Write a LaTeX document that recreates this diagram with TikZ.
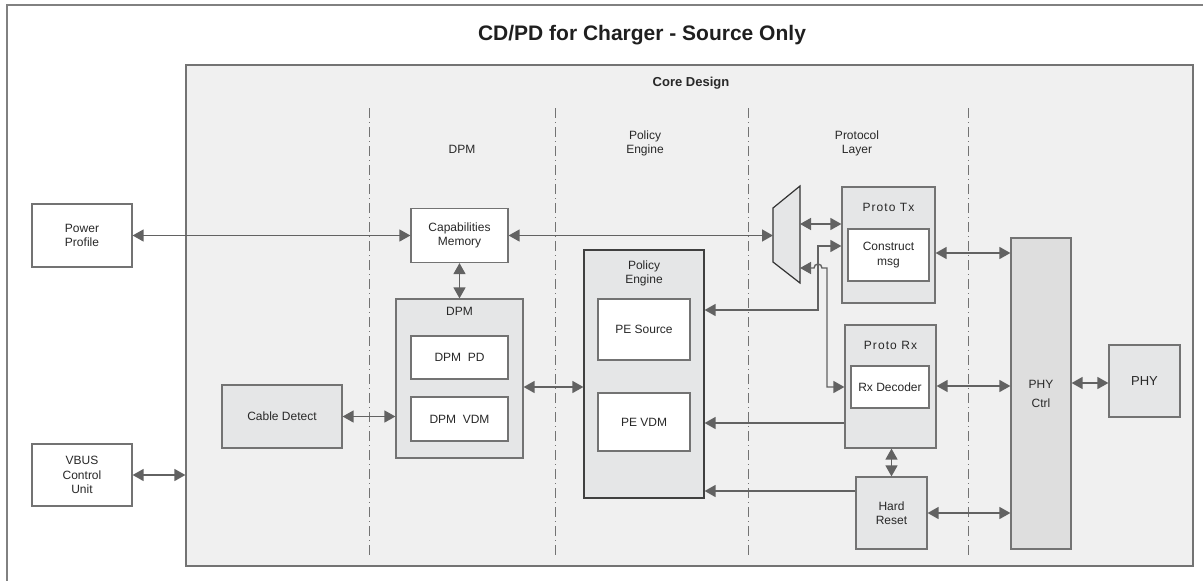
\documentclass[tikz,border=0pt]{standalone}
\usepackage{fontspec}
\setmainfont{Liberation Sans}
\usepackage{tikz}
\usetikzlibrary{arrows.meta}
\usepackage{xcolor}
\definecolor{ColLine}{RGB}{115,115,115}
\definecolor{ColCore}{RGB}{240,240,240}
\definecolor{ColBox}{RGB}{229,230,231}
\definecolor{ColArrow}{RGB}{98,98,98}
\definecolor{ColText}{RGB}{40,40,40}
\tikzstyle{BoxWhite}=[rectangle,draw=ColLine,fill=white,line width=1.2pt,inner sep=0pt,align=center,
text=ColText,font=\fontsize{12}{14.5}\selectfont]
\tikzstyle{BoxGray}=[BoxWhite,fill=ColBox]
\tikzstyle{TextLabel}=[inner sep=0pt,align=center,text=ColText,font=\fontsize{12}{14}\selectfont]
\tikzstyle{SpacedLabel}=[TextLabel,font=\fontsize{12}{14}\selectfont\addfontfeature{LetterSpace=9}]
\tikzstyle{EdgeBoth}=[ColArrow,line width=1.4pt,{Triangle[length=11pt,width=12pt]}-{Triangle[length=11pt,width=12pt]}]
\tikzstyle{EdgeOne}=[ColArrow,line width=1.4pt,-{Triangle[length=11pt,width=12pt]}]
\tikzstyle{LayerLine}=[ColLine,line width=1pt,dash pattern=on 10pt off 4pt on 1pt off 4pt]

\begin{document}
\begin{tikzpicture}[x=1pt,y=-1pt]
        \useasboundingbox(0,0)rectangle(1203,581);
        \draw[ColLine!90,line width=1.5pt](7,581)--(7,5)--(1203,5);
        \node[text=black!88,font=\fontsize{21}{25}\selectfont\bfseries](title)at(642,35){CD/PD for Charger - Source Only};
        \node[BoxGray,fill=ColCore,minimum width=1007pt,minimum height=501pt](core)at(689.5,315.5){};
        \node[TextLabel,font=\fontsize{13}{15}\selectfont\bfseries](coreLabel)at(691,83){Core Design};
        \foreach \x in {369,555,748,968}
            \draw[LayerLine](\x,108)--(\x,555);
        \node[TextLabel](colDPM)at(462,149){DPM};
        \node[TextLabel](colPE)at(645,143){Policy\\Engine};
        \node[TextLabel](colProto)at(857,143){Protocol\\Layer};
        % outside blocks
        \node[BoxWhite,minimum width=100pt,minimum height=63pt](powerProfile)at(82,235.5){Power\\Profile};
        \node[BoxWhite,minimum width=100pt,minimum height=62pt](vbus)at(82,475){VBUS\\Control\\Unit};
        % DPM layer
        \node[BoxGray,minimum width=120pt,minimum height=63pt](cableDetect)at(282,416.5){Cable Detect};
        \node[BoxWhite,minimum width=97pt,minimum height=54pt](capMem)at(459.5,235.5){Capabilities\\Memory};
        \node[BoxGray,minimum width=127pt,minimum height=159pt](dpm)at(459.5,378.5){};
        \node[TextLabel](dpmLabel)at(459.5,311){DPM};
        \node[BoxWhite,minimum width=97pt,minimum height=43pt](dpmPD)at(459.5,357.5){DPM\ \ PD};
        \node[BoxWhite,minimum width=97pt,minimum height=44pt](dpmVDM)at(459.5,419){DPM\ \ VDM};
        % policy engine
        \node[BoxGray,draw=black!75,minimum width=120pt,minimum height=248pt](pe)at(644,374){};
        \node[TextLabel](peLabel)at(644,273){Policy\\Engine};
        \node[BoxWhite,minimum width=92pt,minimum height=61pt](peSource)at(644,329.5){PE Source};
        \node[BoxWhite,minimum width=92pt,minimum height=58pt](peVDM)at(644,422){PE VDM};
        % protocol layer
        \draw[fill=ColBox,draw=black!80,line width=1.2pt](773,208)--(800,186)--(800,283)--(773,262)--cycle;
        \coordinate(muxIn)at(773,235.5);
        \coordinate(muxTx)at(800,224);
        \coordinate(muxRx)at(800,268);
        \node[BoxGray,minimum width=93pt,minimum height=116pt](protoTx)at(888.5,245){};
        \node[SpacedLabel](protoTxLabel)at(888.5,207){Proto Tx};
        \node[BoxWhite,minimum width=81pt,minimum height=52pt](construct)at(888.5,255){Construct\\msg};
        \node[BoxGray,minimum width=91pt,minimum height=123pt](protoRx)at(890.5,386.5){};
        \node[SpacedLabel](protoRxLabel)at(890.5,345){Proto Rx};
        \node[BoxWhite,minimum width=78pt,minimum height=42pt](rxDecoder)at(890,387){Rx Decoder};
        \node[BoxGray,minimum width=71pt,minimum height=72pt](hardReset)at(891.5,513){Hard\\Reset};
        % PHY
        \node[BoxGray,fill=black!13,minimum width=60pt,minimum height=311pt,font=\fontsize{12}{19}\selectfont](phyCtrl)at(1041,393.5){PHY\\Ctrl};
        \node[BoxGray,minimum width=71pt,minimum height=72pt,font=\fontsize{13}{15}\selectfont](phy)at(1144.5,381){PHY};
        % connectors
        \draw[EdgeBoth](powerProfile)--(capMem);
        \draw[EdgeBoth](capMem)--(muxIn);
        \draw[EdgeBoth](capMem)--(dpm);
        \draw[EdgeBoth](vbus.east)--(vbus.east-|core.west);
        \draw[EdgeBoth](cableDetect.east)--(cableDetect.east-|dpm.west);
        \draw[EdgeBoth](dpm.east|-0,387)--(pe.west|-0,387);
        \draw[EdgeBoth](muxTx)--(muxTx-|protoTx.west);
        \draw[EdgeBoth](pe.east|-0,310)-|(818,246)--(protoTx.west|-0,246);
        \draw[EdgeBoth](muxRx)--(814,268)arc[start angle=180,end angle=360,radius=4]--(827,268)--(827,387)--(protoRx.west|-0,387);
        \draw[EdgeOne](protoRx.west|-0,423)--(pe.east|-0,423);
        \draw[EdgeOne](hardReset.west|-0,491)--(pe.east|-0,491);
        \draw[EdgeBoth](hardReset)--(hardReset|-protoRx.south);
        \draw[EdgeBoth](protoTx.east|-0,253)--(phyCtrl.west|-0,253);
        \draw[EdgeBoth](protoRx.east|-0,386)--(phyCtrl.west|-0,386);
        \draw[EdgeBoth](hardReset.east)--(hardReset.east-|phyCtrl.west);
        \draw[EdgeBoth](phyCtrl.east|-0,383)--(phy.west|-0,383);
\end{tikzpicture}
\end{document}
